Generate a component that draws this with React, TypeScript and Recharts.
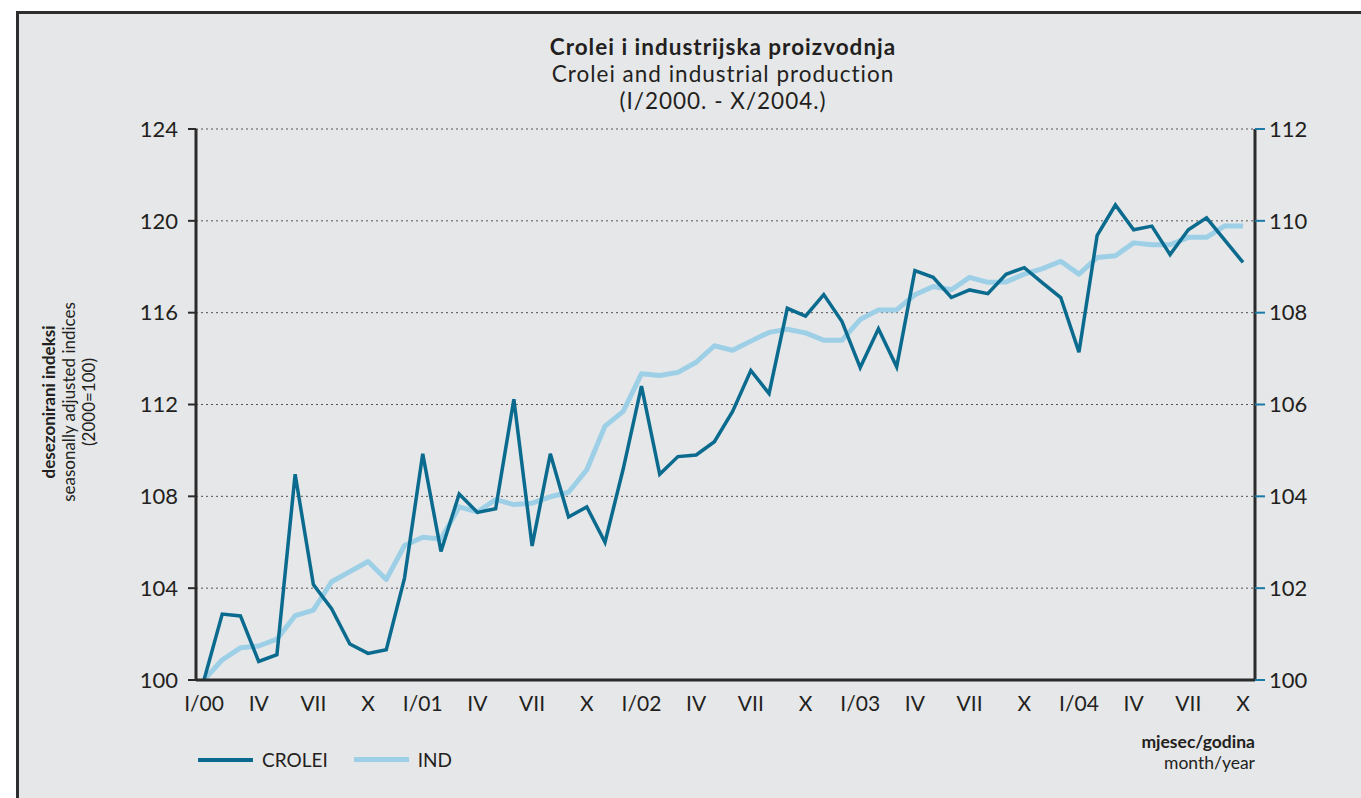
import React from "react";
import { LineChart, Line, XAxis, YAxis, CartesianGrid, Legend } from "recharts";

const MONTHS = ["I", "II", "III", "IV", "V", "VI", "VII", "VIII", "IX", "X", "XI", "XII"];
const YEARS = ["00", "01", "02", "03", "04"];

// I/2000 - X/2004, left axis
const CROLEI = [
  100.0, 102.87, 102.79, 100.81, 101.1, 108.96, 104.16, 103.11, 101.57, 101.16, 101.32, 104.44,
  109.85, 105.6, 108.1, 107.3, 107.46, 112.23, 105.84, 109.85, 107.1, 107.54, 106.0, 109.2,
  112.8, 108.96, 109.73, 109.8, 110.38, 111.7, 113.48, 112.48, 116.19, 115.85, 116.79, 115.61,
  113.61, 115.3, 113.64, 117.83, 117.54, 116.66, 116.99, 116.83, 117.67, 117.96, 117.3, 116.66,
  114.28, 119.37, 120.69, 119.61, 119.77, 118.53, 119.61, 120.13, 119.16, 118.19,
];

// right axis
const IND = [
  100.0, 100.44, 100.7, 100.74, 100.89, 101.4, 101.52, 102.14, 102.36, 102.58, 102.19, 102.93,
  103.11, 103.07, 103.77, 103.66, 103.93, 103.82, 103.85, 103.99, 104.09, 104.58, 105.53, 105.85,
  106.67, 106.63, 106.7, 106.92, 107.28, 107.18, 107.38, 107.57, 107.64, 107.56, 107.4, 107.4,
  107.85, 108.06, 108.06, 108.39, 108.57, 108.5, 108.77, 108.66, 108.67, 108.84, 108.96, 109.12,
  108.84, 109.2, 109.24, 109.52, 109.48, 109.48, 109.64, 109.64, 109.89, 109.89,
];

const LEFT_TICKS = [100, 104, 108, 112, 116, 120, 124];
const RIGHT_TICKS = [100, 102, 104, 106, 108, 110, 112];

const DARK = "#0b6b8f";
const LIGHT = "#9dd0e7";
const TEXT = "#231f20";
const FONT = "Lato, 'Open Sans', sans-serif";

const data = CROLEI.map((c, i) => {
  const m = i % 12;
  const y = YEARS[Math.floor(i / 12)];
  return {
    label: m === 0 ? `I/${y}` : MONTHS[m],
    crolei: c,
    ind: IND[i],
  };
});

const legendItems = [
  { name: "CROLEI", color: DARK, width: 4 },
  { name: "IND", color: LIGHT, width: 5 },
];

function ChartLegend() {
  return (
    <div style={{ display: "flex", alignItems: "center", fontFamily: FONT, fontSize: 19, color: TEXT }}>
      {legendItems.map((it) => (
        <div key={it.name} style={{ display: "flex", alignItems: "center", marginRight: 26 }}>
          <div style={{ width: 55, height: it.width, background: it.color, marginRight: 9 }} />
          <span>{it.name}</span>
        </div>
      ))}
    </div>
  );
}

export default function App() {
  return (
    <div style={{ position: "absolute", left: 0, top: 0, width: 1361, height: 798, background: "#fff", overflow: "hidden" }}>
      <div
        style={{
          position: "absolute",
          left: 16,
          top: 11,
          right: 0,
          bottom: 0,
          background: "#e6e7e9",
          borderTop: "3px solid #2e2e2e",
          borderLeft: "3px solid #2e2e2e",
        }}
      />
      <div
        style={{
          position: "absolute",
          left: 723,
          top: 33,
          transform: "translateX(-50%)",
          textAlign: "center",
          fontFamily: FONT,
          fontSize: 22.5,
          lineHeight: "27px",
          letterSpacing: 1,
          color: TEXT,
          whiteSpace: "nowrap",
        }}
      >
        <div style={{ fontWeight: 700 }}>Crolei i industrijska proizvodnja</div>
        <div>Crolei and industrial production</div>
        <div>(I/2000. - X/2004.)</div>
      </div>
      <div
        style={{
          position: "absolute",
          left: 69,
          top: 402,
          transform: "translate(-50%, -50%) rotate(-90deg)",
          textAlign: "center",
          fontFamily: FONT,
          fontSize: 17,
          lineHeight: "20px",
          color: TEXT,
          whiteSpace: "nowrap",
        }}
      >
        <div style={{ fontWeight: 700 }}>desezonirani indeksi</div>
        <div>seasonally adjusted indices</div>
        <div>(2000=100)</div>
      </div>
      <div
        style={{
          position: "absolute",
          right: 1361 - 1255,
          top: 731,
          textAlign: "right",
          fontFamily: FONT,
          fontSize: 17.5,
          lineHeight: "21px",
          color: TEXT,
          whiteSpace: "nowrap",
        }}
      >
        <div style={{ fontWeight: 700 }}>mjesec/godina</div>
        <div>month/year</div>
      </div>
      <div style={{ position: "absolute", left: 0, top: 0 }}>
        <LineChart width={1361} height={798} data={data} margin={{ top: 129, right: 46, bottom: 78, left: 136 }}>
          <CartesianGrid
            yAxisId="left"
            vertical={false}
            stroke="#555"
            strokeDasharray="2 3"
            strokeWidth={1}
          />
          <XAxis
            dataKey="label"
            interval={2}
            height={40}
            padding={{ left: 8, right: 12 }}
            tickLine={false}
            axisLine={{ stroke: "#2b2b2b", strokeWidth: 3 }}
            tick={{ fill: TEXT, fontSize: 21, fontFamily: FONT }}
            tickMargin={10}
          />
          <YAxis
            yAxisId="left"
            width={60}
            domain={[100, 124]}
            ticks={LEFT_TICKS}
            allowDataOverflow
            axisLine={{ stroke: "#2b2b2b", strokeWidth: 3 }}
            tickLine={{ stroke: "#2b2b2b", strokeWidth: 2 }}
            tickSize={8}
            tickMargin={10}
            tick={{ fill: TEXT, fontSize: 22, fontFamily: FONT }}
          />
          <YAxis
            yAxisId="right"
            orientation="right"
            width={60}
            domain={[100, 112]}
            ticks={RIGHT_TICKS}
            allowDataOverflow
            axisLine={{ stroke: "#2b2b2b", strokeWidth: 3 }}
            tickLine={{ stroke: "#1b7ba6", strokeWidth: 2 }}
            tickSize={10}
            tickMargin={4}
            tick={{ fill: TEXT, fontSize: 22, fontFamily: FONT }}
          />
          <Legend
            layout="horizontal"
            verticalAlign="middle"
            align="center"
            content={() => <ChartLegend />}
            wrapperStyle={{ left: 198, top: 748, width: 320 }}
          />
          <Line
            yAxisId="right"
            dataKey="ind"
            name="IND"
            stroke={LIGHT}
            strokeWidth={5}
            dot={false}
            strokeLinejoin="round"
            isAnimationActive={false}
          />
          <Line
            yAxisId="left"
            dataKey="crolei"
            name="CROLEI"
            stroke={DARK}
            strokeWidth={3.5}
            dot={false}
            strokeLinejoin="miter"
            isAnimationActive={false}
          />
        </LineChart>
      </div>
    </div>
  );
}
